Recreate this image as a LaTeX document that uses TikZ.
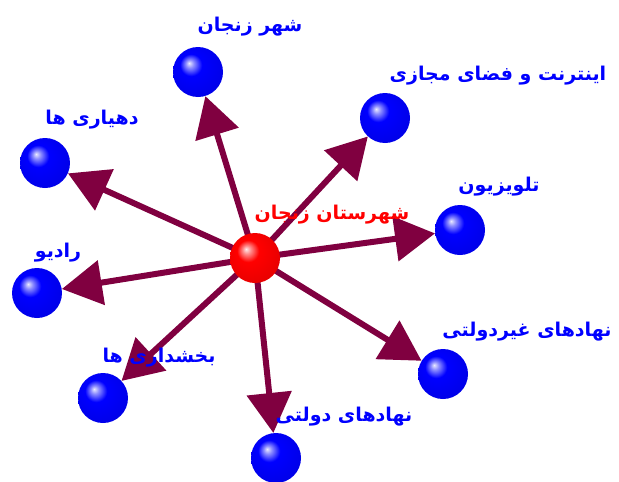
\documentclass[tikz,border=0pt]{standalone}
\usepackage{fontspec}
\usetikzlibrary{arrows.meta}
\TeXXeTstate=1
\newfontfamily\fa[Script=Arabic]{DejaVu Sans}
\definecolor{arrowc}{RGB}{128,0,64}
\pgfdeclareradialshading{bluesphere}{\pgfqpoint{-9bp}{9bp}}{%
  color(0bp)=(blue!8!white); color(4bp)=(blue!45!white); color(11bp)=(blue);
  color(28bp)=(blue!92!black); color(50bp)=(blue!85!black)}
\pgfdeclareradialshading{redsphere}{\pgfqpoint{-9bp}{9bp}}{%
  color(0bp)=(red!8!white); color(4bp)=(red!45!white); color(11bp)=(red);
  color(28bp)=(red!92!black); color(50bp)=(red!85!black)}
\tikzset{
  ballnode/.style={circle, minimum size=50pt, inner sep=0pt, shading=bluesphere},
  centerball/.style={circle, minimum size=50pt, inner sep=0pt, shading=redsphere},
  lbl/.style={font=\fa\bfseries\fontsize{19}{22}\selectfont, text=blue, inner sep=0pt},
  clbl/.style={font=\fa\bfseries\fontsize{19}{22}\selectfont, text=red, inner sep=0pt},
  conn/.style={draw=arrowc, line width=6pt, -{Triangle[length=40pt,width=44pt]}}
}
\begin{document}
\begin{tikzpicture}[x=1pt,y=-1pt]
\useasboundingbox[fill=white] (0,0) rectangle (619,482);
% balls
\node[ballnode] (shahr) at (198,72) {};
\node[ballnode] (internet) at (385,118) {};
\node[ballnode] (dehyari) at (45,163) {};
\node[ballnode] (tv) at (460,230) {};
\node[ballnode] (radio) at (37,293) {};
\node[ballnode] (bakhsh) at (103,398) {};
\node[ballnode] (dolati) at (276,458) {};
\node[ballnode] (gheir) at (443,374) {};
% connectors
\foreach \t in {shahr,internet,dehyari,tv,radio,bakhsh,dolati,gheir}
  \draw[conn] (255,258) -- (\t);
\node[centerball] (center) at (255,258) {};
% labels
\node[lbl] (lshahr) at (250,27) {\beginR شهر زنجان\endR};
\node[lbl] (linternet) at (498,76) {\beginR اینترنت و فضای مجازی\endR};
\node[lbl] (ldehyari) at (92,120) {\beginR دهیاری ها\endR};
\node[lbl] (ltv) at (499,187) {\beginR تلویزیون\endR};
\node[clbl] (lcenter) at (332,215) {\beginR شهرستان زنجان\endR};
\node[lbl] (lradio) at (58,253) {\beginR رادیو\endR};
\node[lbl] (lbakhsh) at (159,358) {\beginR بخشداری ها\endR};
\node[lbl] (lgheir) at (527,332) {\beginR نهادهای غیردولتی\endR};
\node[lbl] (ldolati) at (344,417) {\beginR نهادهای دولتی\endR};
\end{tikzpicture}
\end{document}
